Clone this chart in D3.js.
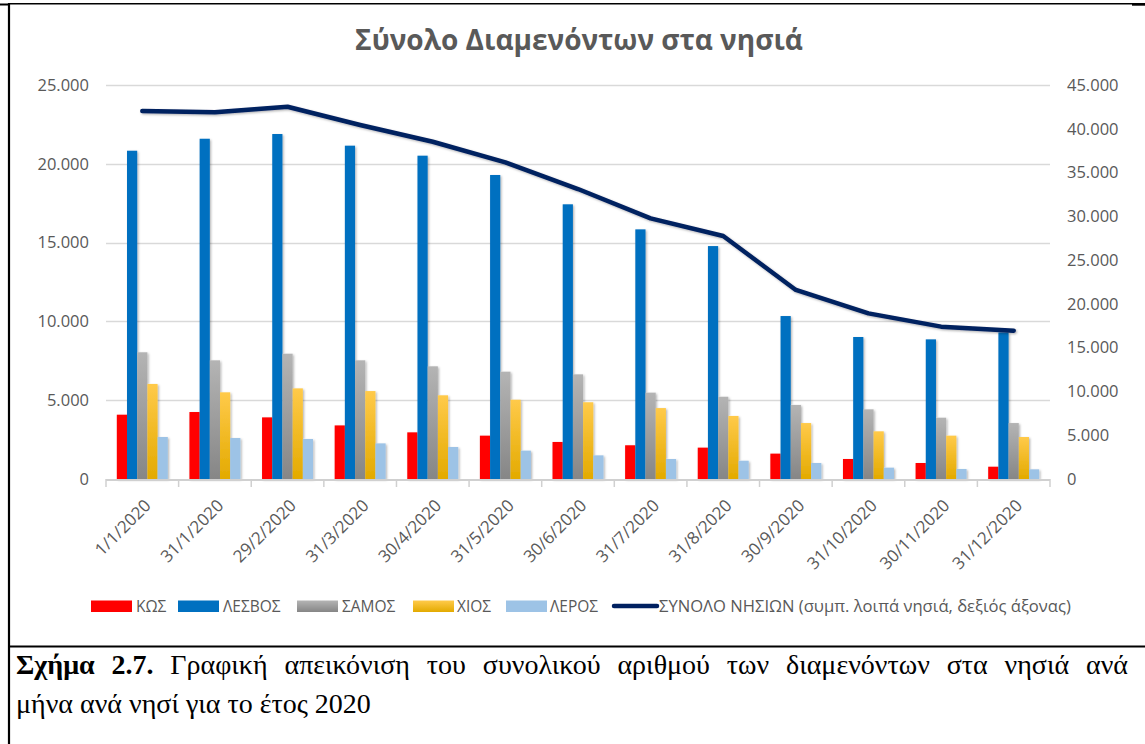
<!DOCTYPE html>
<html>
<head>
<meta charset="utf-8">
<script src="https://cdn.jsdelivr.net/npm/d3@7"></script>
<style>
  html, body { margin: 0; padding: 0; background: #fff; overflow: hidden; }
  svg { display: block; }
</style>
</head>
<body>
<svg id="chart" width="1145" height="744"></svg>
<script>
"use strict";

// ---- data ----
const DATES = ["1/1/2020", "31/1/2020", "29/2/2020", "31/3/2020", "30/4/2020", "31/5/2020", "30/6/2020",
               "31/7/2020", "31/8/2020", "30/9/2020", "31/10/2020", "30/11/2020", "31/12/2020"];
const SERIES = ["ΚΩΣ", "ΛΕΣΒΟΣ", "ΣΑΜΟΣ", "ΧΙΟΣ", "ΛΕΡΟΣ"];
const KOS    = [4080, 4250, 3910, 3400, 2960, 2750, 2350, 2140, 1990, 1610, 1270, 1015, 780];
const LESVOS = [20830, 21590, 21890, 21150, 20515, 19290, 17430, 15840, 14780, 10340, 9010, 8860, 9300];
const SAMOS  = [8040, 7530, 7950, 7530, 7150, 6810, 6640, 5480, 5220, 4700, 4420, 3890, 3550];
const CHIOS  = [6030, 5500, 5750, 5580, 5310, 5030, 4870, 4500, 4000, 3550, 3025, 2750, 2665];
const LEROS  = [2665, 2600, 2540, 2260, 2030, 1800, 1500, 1270, 1160, 1015, 720, 635, 615];
const TOTAL_NAME = "ΣΥΝΟΛΟ ΝΗΣΙΩΝ (συμπ. λοιπά νησιά, δεξιός άξονας)";
const TOTAL  = [42030, 41880, 42520, 40430, 38520, 36170, 33120, 29770, 27750, 21590, 18920, 17400, 16940];
const LEFT_TICKS  = [0, 5000, 10000, 15000, 20000, 25000];
const RIGHT_TICKS = [0, 5000, 10000, 15000, 20000, 25000, 30000, 35000, 40000, 45000];
const TITLE = "Σύνολο Διαμενόντων στα νησιά";
const CAPTION_BOLD = ["Σχήμα", "2.7."];
const CAPTION_LINE1 = "Γραφική απεικόνιση του συνολικού αριθμού των διαμενόντων στα νησιά ανά";
const CAPTION_LINE2 = "μήνα ανά νησί για το έτος 2020";

const VALUES = [KOS, LESVOS, SAMOS, CHIOS, LEROS];

// ---- layout ----
const PLOT_LEFT = 106, PLOT_RIGHT = 1050, PLOT_TOP = 85, PLOT_BOTTOM = 479;
const TEXT_GREY = "#595959";
const FONT = "'Open Sans', 'Noto Sans', sans-serif";

const svg = d3.select("#chart");
const defs = svg.append("defs");

// gradients for grey / yellow bars
function vGrad(id, top, bottom) {
  const g = defs.append("linearGradient").attr("id", id)
    .attr("x1", 0).attr("y1", 0).attr("x2", 0).attr("y2", 1);
  g.append("stop").attr("offset", "0%").attr("stop-color", top);
  g.append("stop").attr("offset", "100%").attr("stop-color", bottom);
}
vGrad("gGrey", "#b4b4b4", "#868686");
vGrad("gYellow", "#ffca4a", "#e3aa00");

const shadow = defs.append("filter").attr("id", "shadow")
  .attr("x", "-30%").attr("y", "-5%").attr("width", "160%").attr("height", "115%");
shadow.append("feDropShadow").attr("dx", 1.2).attr("dy", 1.2).attr("stdDeviation", 1)
  .attr("flood-color", "#000").attr("flood-opacity", 0.3);

const COLORS = ["#ff0000", "#0070c0", "url(#gGrey)", "url(#gYellow)", "#9dc3e6"];

// ---- frame ----
svg.append("rect").attr("x", 0).attr("y", 0).attr("width", 1145).attr("height", 744).attr("fill", "#fff");
svg.append("line").attr("x1", 0).attr("x2", 9).attr("y1", 4.5).attr("y2", 4.5).attr("stroke", "#000").attr("stroke-width", 2);
svg.append("line").attr("x1", 8).attr("x2", 1145).attr("y1", 3.8).attr("y2", 3.8).attr("stroke", "#000").attr("stroke-width", 1.4);
svg.append("line").attr("x1", 1132).attr("x2", 1145).attr("y1", 4.5).attr("y2", 4.5).attr("stroke", "#000").attr("stroke-width", 2.4);
svg.append("line").attr("x1", 9).attr("x2", 9).attr("y1", 3).attr("y2", 744).attr("stroke", "#000").attr("stroke-width", 2.2);
svg.append("line").attr("x1", 8).attr("x2", 1145).attr("y1", 646.5).attr("y2", 646.5).attr("stroke", "#000").attr("stroke-width", 2.2);

// ---- scales ----
const x0 = d3.scaleBand().domain(DATES).range([PLOT_LEFT, PLOT_RIGHT]).paddingInner(0).paddingOuter(0);
const x1 = d3.scaleBand().domain(SERIES).range([0, x0.bandwidth()]).paddingInner(0).paddingOuter(1.06);
const yL = d3.scaleLinear().domain([0, 25000]).range([PLOT_BOTTOM, PLOT_TOP]);
const yR = d3.scaleLinear().domain([0, 45000]).range([PLOT_BOTTOM, PLOT_TOP]);

const fmt = d3.formatLocale({ decimal: ",", thousands: ".", grouping: [3], currency: ["", "€"] }).format(",d");

// ---- title ----
svg.append("text")
  .attr("x", 579).attr("y", 50)
  .attr("text-anchor", "middle")
  .attr("font-family", FONT).attr("font-weight", "bold").attr("font-size", 28)
  .attr("fill", TEXT_GREY)
  .text(TITLE);

// ---- gridlines ----
svg.append("g")
  .selectAll("line").data(LEFT_TICKS.slice(1)).join("line")
  .attr("x1", PLOT_LEFT).attr("x2", PLOT_RIGHT)
  .attr("y1", d => Math.round(yL(d)) + 0.5).attr("y2", d => Math.round(yL(d)) + 0.5)
  .attr("stroke", "#d9d9d9").attr("stroke-width", 1.3);

// ---- left axis ----
const leftAxis = svg.append("g")
  .attr("transform", `translate(${PLOT_LEFT},0)`)
  .call(d3.axisLeft(yL).tickValues(LEFT_TICKS).tickFormat(fmt).tickSize(0).tickPadding(17));
leftAxis.select(".domain").remove();
leftAxis.selectAll("text").attr("font-family", FONT).attr("font-size", 16.5).attr("fill", TEXT_GREY);

// ---- right axis ----
const rightAxis = svg.append("g")
  .attr("transform", `translate(${PLOT_RIGHT},0)`)
  .call(d3.axisRight(yR).tickValues(RIGHT_TICKS).tickFormat(fmt).tickSize(0).tickPadding(17));
rightAxis.select(".domain").remove();
rightAxis.selectAll("text").attr("font-family", FONT).attr("font-size", 16.5).attr("fill", TEXT_GREY);

// ---- bars ----
const barsG = svg.append("g").attr("filter", "url(#shadow)");
const groups = barsG.selectAll("g").data(DATES).join("g")
  .attr("transform", d => `translate(${x0(d)},0)`);
groups.selectAll("rect")
  .data((d, i) => SERIES.map((s, k) => ({ s, k, v: VALUES[k][i] })))
  .join("rect")
  .attr("x", d => x1(d.s))
  .attr("width", x1.bandwidth())
  .attr("y", d => yL(d.v))
  .attr("height", d => yL(0) - yL(d.v))
  .attr("fill", d => COLORS[d.k]);

// ---- bottom axis ----
const bottomAxis = svg.append("g")
  .attr("transform", `translate(0,${PLOT_BOTTOM})`)
  .call(d3.axisBottom(x0).tickSize(0).tickFormat(""));
bottomAxis.select(".domain").remove();
svg.append("line").attr("x1", PLOT_LEFT).attr("x2", PLOT_RIGHT)
  .attr("y1", PLOT_BOTTOM + 1).attr("y2", PLOT_BOTTOM + 1)
  .attr("stroke", "#d0d0d0").attr("stroke-width", 2);
svg.append("g").selectAll("line")
  .data(d3.range(DATES.length + 1))
  .join("line")
  .attr("x1", i => i < DATES.length ? x0(DATES[i]) : PLOT_RIGHT)
  .attr("x2", i => i < DATES.length ? x0(DATES[i]) : PLOT_RIGHT)
  .attr("y1", PLOT_BOTTOM).attr("y2", PLOT_BOTTOM + 8)
  .attr("stroke", "#d0d0d0").attr("stroke-width", 1.5);

// x labels rotated -45
svg.append("g").selectAll("text").data(DATES).join("text")
  .attr("transform", d => `translate(${x0(d) + x0.bandwidth() / 2 + 1},${PLOT_BOTTOM + 19}) rotate(-45)`)
  .attr("text-anchor", "end")
  .attr("dy", "0.72em")
  .attr("font-family", FONT).attr("font-size", 17)
  .attr("fill", TEXT_GREY)
  .text(d => d);

// ---- total line (right axis) ----
const line = d3.line()
  .x((d, i) => x0(DATES[i]) + x0.bandwidth() / 2)
  .y(d => yR(d));
svg.append("path")
  .datum(TOTAL)
  .attr("d", line)
  .attr("fill", "none")
  .attr("stroke", "#002060")
  .attr("stroke-width", 4.5)
  .attr("stroke-linecap", "round")
  .attr("stroke-linejoin", "round")
  .attr("filter", "url(#shadow)");

// ---- legend ----
const LEG_Y = 606;
const legItems = [
  { name: SERIES[0], x: 91, tx: 136, color: COLORS[0] },
  { name: SERIES[1], x: 178, tx: 223, color: COLORS[1] },
  { name: SERIES[2], x: 297, tx: 342, color: COLORS[2] },
  { name: SERIES[3], x: 413, tx: 457, color: COLORS[3] },
  { name: SERIES[4], x: 506, tx: 550, color: COLORS[4] }
];
const legend = svg.append("g");
legend.selectAll("rect").data(legItems).join("rect")
  .attr("x", d => d.x).attr("y", LEG_Y - 5.5)
  .attr("width", 41).attr("height", 11.5)
  .attr("fill", d => d.color);
legend.selectAll("text.item").data(legItems).join("text")
  .attr("class", "item")
  .attr("x", d => d.tx).attr("y", LEG_Y).attr("dy", "0.36em")
  .attr("font-family", FONT).attr("font-size", 15.5)
  .attr("fill", TEXT_GREY)
  .text(d => d.name);
legend.append("line")
  .attr("x1", 614).attr("x2", 657).attr("y1", LEG_Y).attr("y2", LEG_Y)
  .attr("stroke", "#002060").attr("stroke-width", 4.5).attr("stroke-linecap", "round");
legend.append("text")
  .attr("x", 659).attr("y", LEG_Y).attr("dy", "0.36em")
  .attr("font-family", FONT).attr("font-size", 16.6)
  .attr("fill", TEXT_GREY)
  .text(TOTAL_NAME);

// ---- caption (justified first line) ----
const CAP_FONT = "'Liberation Serif', 'Times New Roman', serif";
const CAP_SIZE = 28;
const words = CAPTION_BOLD.map(w => ({ w, bold: true }))
  .concat(CAPTION_LINE1.split(" ").map(w => ({ w, bold: false })));
const capG = svg.append("g");
const wordNodes = capG.selectAll("text").data(words).join("text")
  .attr("y", 674)
  .attr("font-family", CAP_FONT).attr("font-size", CAP_SIZE)
  .attr("font-weight", d => d.bold ? "bold" : "normal")
  .attr("fill", "#000")
  .text(d => d.w);
const widths = wordNodes.nodes().map(n => n.getComputedTextLength());
const capLeft = 16, capRight = 1128;
const gap = (capRight - capLeft - d3.sum(widths)) / (words.length - 1);
let cx = capLeft;
wordNodes.attr("x", (d, i) => { const xx = cx; cx += widths[i] + gap; return xx; });

svg.append("text")
  .attr("x", capLeft).attr("y", 713)
  .attr("font-family", CAP_FONT).attr("font-size", CAP_SIZE)
  .attr("fill", "#000")
  .text(CAPTION_LINE2);
</script>
</body>
</html>
